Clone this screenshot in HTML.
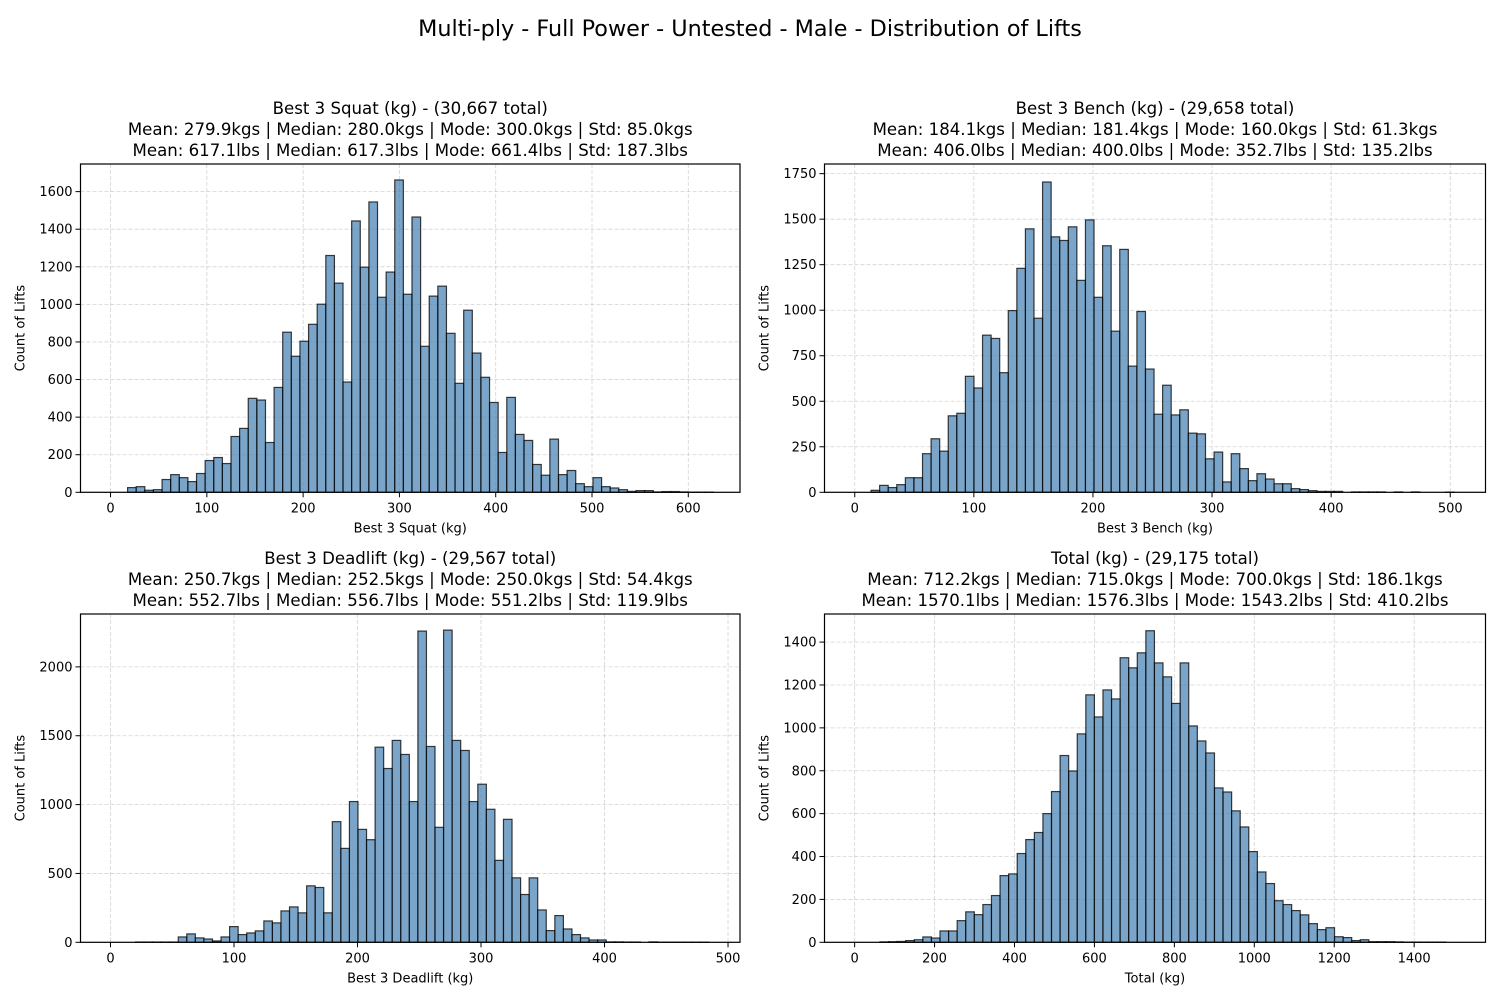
<!DOCTYPE html>
<html><head><meta charset="utf-8">
<style>
body{margin:0;background:#fff;}
svg{display:block;font-family:"DejaVu Sans","Liberation Sans",sans-serif;}
</style></head>
<body>
<svg id="fig" width="1500" height="1000" xmlns="http://www.w3.org/2000/svg">
<rect width="1500" height="1000" fill="#fff"/>
<text x="750" y="36" text-anchor="middle" font-size="22.3" fill="#000">Multi-ply - Full Power - Untested - Male - Distribution of Lifts</text>
</svg>
<script>
// ---- data ----
const squatCounts = [25,30,11,14,68,94,78,57,100,169,185,153,297,340,500,491,265,558,852,724,804,894,1001,1260,1113,587,1444,1198,1545,1038,1172,1662,1054,1465,777,1044,1097,846,580,969,741,612,478,212,505,308,276,148,91,283,94,116,46,30,78,30,23,14,5,9,9,2,4,4,2,1,1,1];
const squatBin = [17.7, 8.95];
const benchCounts = [11,38,26,42,80,80,212,294,226,420,434,637,573,863,845,657,998,1230,1447,956,1704,1403,1383,1458,1164,1496,1071,1354,885,1334,693,993,677,429,588,425,453,325,321,184,221,57,212,130,64,102,73,47,47,20,15,9,5,5,5,0,2,2,2,2,0,2,0,2,0,0,0,1];
const benchBin = [13.7, 7.2];
const deadCounts = [2,2,2,2,2,39,61,32,24,10,39,114,56,68,83,155,141,228,257,214,410,398,214,876,682,1022,820,745,1417,1262,1466,1364,1022,2260,1422,835,2267,1466,1393,1022,1148,966,595,893,468,347,468,235,85,194,97,56,32,17,17,3,3,2,2,0,3,1,1,1,1,1,1];
const deadBin = [20.2, 6.93];
const totalCounts = [2,3,4,8,12,25,20,53,53,101,142,129,176,218,311,319,414,479,512,600,703,871,799,972,1154,1051,1177,1135,1327,1280,1350,1453,1303,1238,1114,1303,1009,939,883,720,701,613,538,423,328,274,194,176,148,128,87,59,68,26,22,8,12,3,3,3,2,1,1,1,1,1];
const totalBin = [63.4, 21.46];
const squatXTicks = [0,100,200,300,400,500,600];
const squatYTicks = [0,200,400,600,800,1000,1200,1400,1600];
const benchXTicks = [0,100,200,300,400,500];
const benchYTicks = [0,250,500,750,1000,1250,1500,1750];
const deadXTicks = [0,100,200,300,400,500];
const deadYTicks = [0,500,1000,1500,2000];
const totalXTicks = [0,200,400,600,800,1000,1200,1400];
const totalYTicks = [0,200,400,600,800,1000,1200,1400];
const squatTitle = ["Best 3 Squat (kg) - (30,667 total)","Mean: 279.9kgs | Median: 280.0kgs | Mode: 300.0kgs | Std: 85.0kgs","Mean: 617.1lbs | Median: 617.3lbs | Mode: 661.4lbs | Std: 187.3lbs"];
const benchTitle = ["Best 3 Bench (kg) - (29,658 total)","Mean: 184.1kgs | Median: 181.4kgs | Mode: 160.0kgs | Std: 61.3kgs","Mean: 406.0lbs | Median: 400.0lbs | Mode: 352.7lbs | Std: 135.2lbs"];
const deadTitle = ["Best 3 Deadlift (kg) - (29,567 total)","Mean: 250.7kgs | Median: 252.5kgs | Mode: 250.0kgs | Std: 54.4kgs","Mean: 552.7lbs | Median: 556.7lbs | Mode: 551.2lbs | Std: 119.9lbs"];
const totalTitle = ["Total (kg) - (29,175 total)","Mean: 712.2kgs | Median: 715.0kgs | Mode: 700.0kgs | Std: 186.1kgs","Mean: 1570.1lbs | Median: 1576.3lbs | Mode: 1543.2lbs | Std: 410.2lbs"];

const NS = "http://www.w3.org/2000/svg";
const fig = document.getElementById('fig');
function mk(tag, attrs, parent){
  const e = document.createElementNS(NS, tag);
  for (const k in attrs) e.setAttribute(k, attrs[k]);
  (parent||fig).appendChild(e);
  return e;
}

function drawChart(key, box, xd, yd, counts, bin, xt, yt, title, xlabel){
  const g = mk('g', {});
  
  
  const X = v => box.x0 + (v - xd[0]) / (xd[1] - xd[0]) * (box.x1 - box.x0);
  const Y = v => box.y1 - (v - yd[0]) / (yd[1] - yd[0]) * (box.y1 - box.y0);
  xt.forEach(t => {
    const l = mk('line', {x1:X(t), x2:X(t), y1:box.y0, y2:box.y1, stroke:'#b0b0b0', 'stroke-opacity':0.55, 'stroke-width':0.8, 'stroke-dasharray':'4,2'}, g);
    
    
  });
  yt.forEach(t => {
    const l = mk('line', {x1:box.x0, x2:box.x1, y1:Y(t), y2:Y(t), stroke:'#b0b0b0', 'stroke-opacity':0.55, 'stroke-width':0.8, 'stroke-dasharray':'4,2'}, g);
    
    
  });
  counts.forEach((c, i) => {
    if (c <= 0) return;
    const a = bin[0] + i * bin[1], b = a + bin[1];
    const r = mk('rect', {x:X(a), y:Y(c), width:X(b)-X(a), height:Y(0)-Y(c), fill:'#4682b4', 'fill-opacity':0.72, stroke:'#000', 'stroke-opacity':0.75, 'stroke-width':1.2}, g);
    
    
  });
  const f = mk('rect', {x:box.x0, y:box.y0, width:box.x1-box.x0, height:box.y1-box.y0, fill:'none', stroke:'#000', 'stroke-width':1.2}, g);
  
  
  xt.forEach(t => {
    mk('line', {x1:X(t), x2:X(t), y1:box.y1, y2:box.y1+5, stroke:'#000', 'stroke-width':1}, g);
    const tx = mk('text', {x:X(t), y:box.y1+20, 'text-anchor':'middle', 'font-size':13, fill:'#000'}, g);
    tx.textContent = t;
    
    
  });
  yt.forEach(t => {
    mk('line', {x1:box.x0-5, x2:box.x0, y1:Y(t), y2:Y(t), stroke:'#000', 'stroke-width':1}, g);
    const tx = mk('text', {x:box.x0-8, y:Y(t)+4.5, 'text-anchor':'end', 'font-size':13, fill:'#000'}, g);
    tx.textContent = t;
    
    
  });
  const xl = mk('text', {x:(box.x0+box.x1)/2, y:box.y1+40, 'text-anchor':'middle', 'font-size':13, fill:'#000'}, g);
  xl.textContent = xlabel;
  
  
  const yx = box.x0 - 56, yy = (box.y0+box.y1)/2;
  const yl = mk('text', {x:yx, y:yy, 'text-anchor':'middle', 'font-size':13, fill:'#000', transform:`rotate(-90 ${yx} ${yy})`}, g);
  yl.textContent = 'Count of Lifts';
  
  
  title.forEach((s, i) => {
    const tt = mk('text', {x:(box.x0+box.x1)/2, y:box.y0-50+i*21, 'text-anchor':'middle', 'font-size':16.6, fill:'#000'}, g);
    tt.textContent = s;
    
    
  });
}

drawChart('squat', {x0:80.5,x1:740,y0:164,y1:492.3}, [-31.2,653.7], [0,1747], squatCounts, squatBin, squatXTicks, squatYTicks, squatTitle, 'Best 3 Squat (kg)');
drawChart('bench', {x0:824.5,x1:1485.5,y0:164,y1:492.3}, [-25.4,529.6], [0,1803], benchCounts, benchBin, benchXTicks, benchYTicks, benchTitle, 'Best 3 Bench (kg)');
drawChart('deadlift', {x0:80.5,x1:740,y0:614,y1:942.3}, [-24.3,509.7], [0,2384], deadCounts, deadBin, deadXTicks, deadYTicks, deadTitle, 'Best 3 Deadlift (kg)');
drawChart('total', {x0:824.5,x1:1485.5,y0:614,y1:942.3}, [-75.4,1578.5], [0,1531], totalCounts, totalBin, totalXTicks, totalYTicks, totalTitle, 'Total (kg)');
</script>
</body></html>
